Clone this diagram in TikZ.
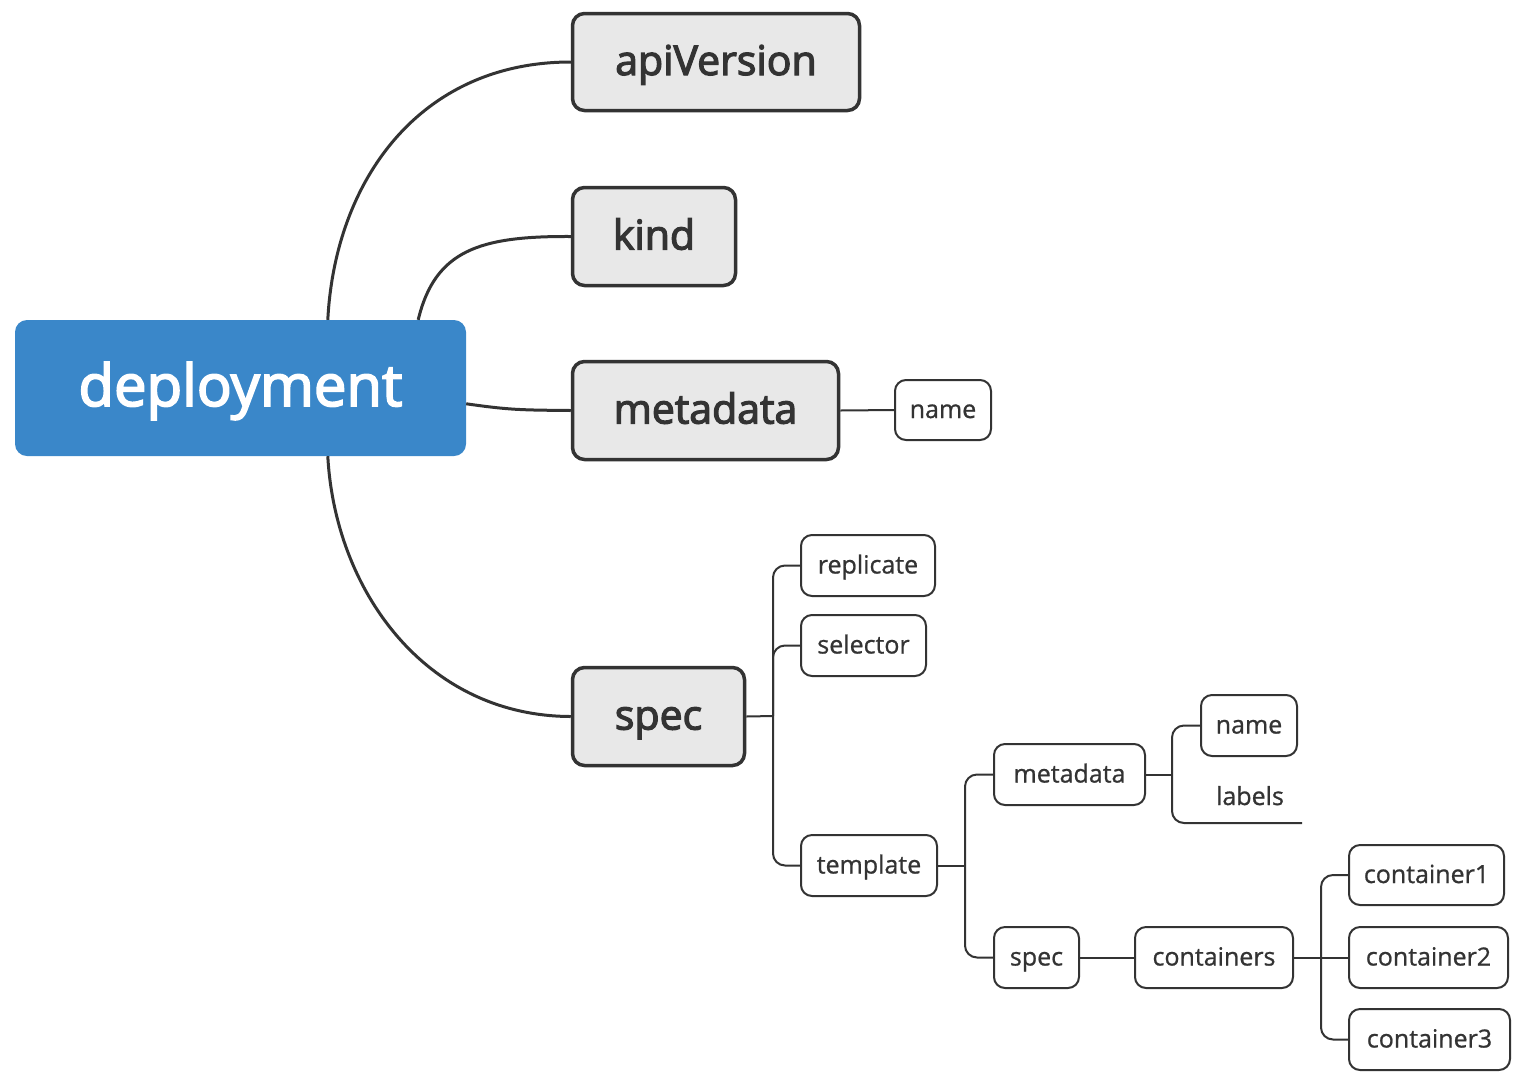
\documentclass[tikz,border=0pt]{standalone}
\usepackage{fontspec}
\setmainfont{Open Sans}[FakeBold=0.8]
\newfontfamily\semifont{Open Sans}[FakeBold=3]
\usetikzlibrary{positioning}
\definecolor{rootblue}{HTML}{3A87C9}
\definecolor{boxgray}{HTML}{E8E8E8}
\definecolor{linegray}{HTML}{333333}

\begin{document}
\begin{tikzpicture}[x=1pt,y=-1pt,
    rootbox/.style={fill=rootblue, rounded corners=12pt, text=white, inner sep=0pt, text height=36pt, text depth=0pt, font=\fontsize{58}{64}\semifont},
    keybox/.style={draw=linegray, line width=3.5pt, fill=boxgray, rounded corners=12pt, text=linegray, inner sep=0pt, text height=26pt, text depth=0pt, font=\fontsize{41}{46}\semifont},
    leafbox/.style={draw=linegray, line width=2pt, fill=white, rounded corners=11pt, text=linegray, inner sep=0pt, text height=16pt, text depth=0pt, font=\fontsize{25}{30}\selectfont},
    bigline/.style={draw=linegray, line width=3pt},
    smallline/.style={draw=linegray, line width=2pt, rounded corners=12pt}]
    \useasboundingbox (0,0) rectangle (1523,1080);
    % root and first level keys
    \node[rootbox, minimum width=451pt, minimum height=136pt] (deployment) at (240.5,388) {deployment};
    \node[keybox, minimum width=287pt, minimum height=97pt] (apiversion) at (716,62) {apiVersion};
    \node[keybox, minimum width=163pt, minimum height=98pt] (kind) at (654,236.5) {kind};
    \node[keybox, minimum width=266pt, minimum height=98pt] (metadata) at (705.5,410.5) {metadata};
    \node[keybox, minimum width=172pt, minimum height=98pt] (spec) at (658.5,716.5) {spec};

    \draw[bigline] (deployment.38) .. controls (335,180) and (420,62) .. (apiversion.west);
    \draw[bigline] (deployment.21) .. controls (435,250) and (480,236) .. (kind.west);
    \draw[bigline] (deployment.-4) .. controls (510,410) and (520,410) .. (metadata.west);
    \draw[bigline] (deployment.-38) .. controls (335,590) and (425,716) .. (spec.west);

    % metadata
    \node[leafbox, minimum width=96pt, minimum height=60pt] (metaname) at (943,410) {name};
    \draw[smallline] (metadata.east) -- (metaname.west);

    % spec
    \node[leafbox, minimum width=134pt, minimum height=61pt] (replicate) at (868,565.5) {replicate};
    \node[leafbox, minimum width=125pt, minimum height=61pt] (selector) at (863.5,645.5) {selector};
    \node[leafbox, minimum width=136pt, minimum height=61pt] (template) at (869,865.5) {template};
    \coordinate (specfork) at (773,716);
    \draw[smallline] (spec.east) -- (specfork);
    \draw[smallline] (replicate.west) -| (specfork) |- (template.west);
    \draw[smallline] (selector.west) -| (specfork);

    % template
    \node[leafbox, minimum width=151pt, minimum height=61pt] (tmetadata) at (1069.5,774.5) {metadata};
    \node[leafbox, minimum width=85pt, minimum height=61pt] (tspec) at (1036.5,957.5) {spec};
    \coordinate (templatefork) at (965,865.5);
    \draw[smallline] (template.east) -- (templatefork);
    \draw[smallline] (tmetadata.west) -| (templatefork) |- (tspec.west);

    % template metadata
    \node[leafbox, minimum width=96pt, minimum height=61pt] (tname) at (1249,725.5) {name};
    \node[text=linegray, inner sep=0pt, text height=16pt, text depth=0pt, font=\fontsize{25}{30}\selectfont] (labels) at (1250,797) {labels};
    \coordinate (tmetafork) at (1172,774.5);
    \coordinate (labelsend) at (1302,823);
    \draw[smallline] (tmetadata.east) -- (tmetafork);
    \draw[smallline] (tname.west) -| (tmetafork) |- (labelsend);

    % template spec
    \node[leafbox, minimum width=158pt, minimum height=61pt] (containers) at (1214,957.5) {containers};
    \draw[smallline] (tspec.east) -- (containers.west);
    \node[leafbox, minimum width=155pt, minimum height=60pt] (container1) at (1426.5,875) {container1};
    \node[leafbox, minimum width=159pt, minimum height=61pt] (container2) at (1428.5,957.5) {container2};
    \node[leafbox, minimum width=161pt, minimum height=61pt] (container3) at (1429.5,1039.5) {container3};
    \coordinate (containersfork) at (1321,957.5);
    \draw[smallline] (containers.east) -- (container2.west);
    \draw[smallline] (container1.west) -| (containersfork) |- (container3.west);
\end{tikzpicture}
\end{document}
